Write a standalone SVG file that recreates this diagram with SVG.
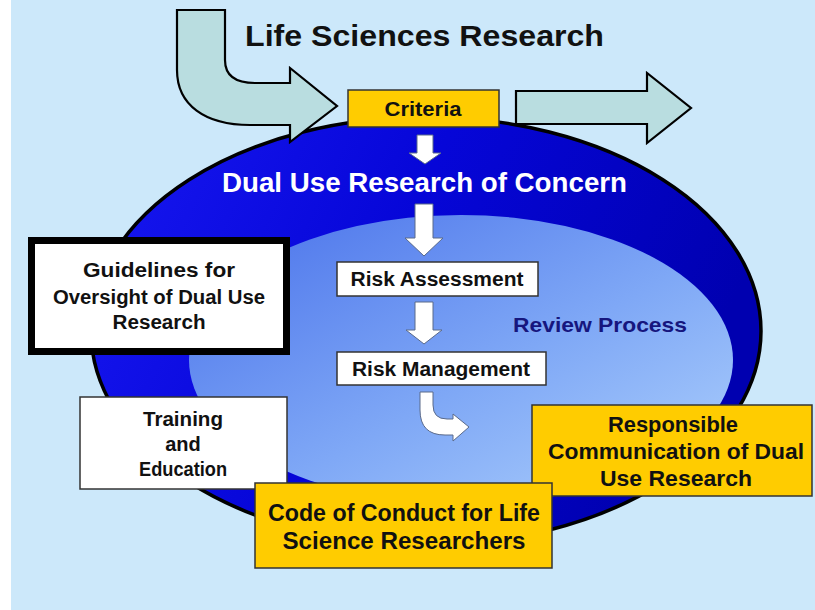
<svg xmlns="http://www.w3.org/2000/svg" width="815" height="610" viewBox="0 0 815 610">
<defs>
<linearGradient id="gOuter" x1="0" y1="0" x2="1" y2="0.3">
<stop offset="0" stop-color="#1818F2"/>
<stop offset="0.5" stop-color="#0606D8"/>
<stop offset="1" stop-color="#0000B0"/>
</linearGradient>
<linearGradient id="gInner" x1="0" y1="0" x2="1" y2="1">
<stop offset="0" stop-color="#4870EA"/>
<stop offset="0.55" stop-color="#7FA8F6"/>
<stop offset="1" stop-color="#B0D2FC"/>
</linearGradient>
<style>
.bigarrow{fill:#B9DDE0;stroke:#000;stroke-width:2.2;stroke-linejoin:miter}
.warrow{fill:#FFFFFF;stroke:#5A6A8A;stroke-width:1}
.gold{fill:#FFCC00;stroke:#333;stroke-width:1.5}
.wbox{fill:#FFFFFF;stroke:#333;stroke-width:1.5}
text{font-family:"Liberation Sans",Arial,sans-serif;font-weight:bold;fill:#111}
.c{text-anchor:middle}
</style>
</defs>
<rect x="0" y="0" width="815" height="610" fill="#FFFFFF"/>
<rect x="11" y="0" width="804" height="610" fill="#CCE8FA"/>

<g id="dual-use-ellipse">
<ellipse cx="426" cy="331" rx="335" ry="214" fill="url(#gOuter)" stroke="#000" stroke-width="3.5"/>
<text x="222" y="192" font-size="27" textLength="405" lengthAdjust="spacingAndGlyphs" style="fill:#FFFFFF">Dual Use Research of Concern</text>
</g>
<g id="review-process">
<ellipse cx="461" cy="360" rx="272" ry="145" fill="url(#gInner)"/>
<text x="513" y="332" font-size="21" textLength="174" lengthAdjust="spacingAndGlyphs" style="fill:#16167E">Review Process</text>
</g>

<g id="title">
<text x="245" y="46" font-size="29" textLength="359" lengthAdjust="spacingAndGlyphs">Life Sciences Research</text>
</g>

<g id="connectors">
<path class="bigarrow" d="M177,10 L225,10 L225,60 C225,75 235,83 255,83 L290,83 L290,68 L337,106 L290,142 L290,125 L250,125 C205,125 177,105 177,70 Z"/>
<path class="bigarrow" d="M516,91 L647,91 L647,73 L691,108 L647,143 L647,124 L516,124 Z"/>
<path class="warrow" d="M417,135 H433 V153 H441 L425,164 L409,153 H417 Z"/>
<path class="warrow" d="M415,204 H433 V238 H443 L424,256 L405,238 H415 Z"/>
<path class="warrow" d="M415,302 H433 V330 H442 L424,344 L406,330 H415 Z"/>
<path class="warrow" d="M420,392 L433,392 L433,405 Q433,419 447,419 L453,419 L453,414 L469,427 L453,441 L453,435 L445,435 Q420,435 420,410 Z"/>
</g>

<g id="criteria">
<rect class="gold" x="348" y="90" width="151" height="37"/>
<text class="c" x="423" y="116" font-size="21" textLength="77" lengthAdjust="spacingAndGlyphs">Criteria</text>
</g>

<g id="risk-assessment">
<rect class="wbox" x="337" y="262" width="201" height="34"/>
<text class="c" x="437" y="286" font-size="20" textLength="173" lengthAdjust="spacingAndGlyphs">Risk Assessment</text>
</g>

<g id="risk-management">
<rect class="wbox" x="337" y="352" width="209" height="33"/>
<text class="c" x="441" y="376" font-size="20" textLength="178" lengthAdjust="spacingAndGlyphs">Risk Management</text>
</g>

<g id="guidelines">
<rect x="31.5" y="240.5" width="255" height="111" fill="#FFFFFF" stroke="#000" stroke-width="7"/>
<text class="c" x="159" y="277" font-size="20" textLength="152" lengthAdjust="spacingAndGlyphs">Guidelines for</text>
<text class="c" x="159" y="304" font-size="20" textLength="212" lengthAdjust="spacingAndGlyphs">Oversight of Dual Use</text>
<text class="c" x="159" y="329" font-size="20" textLength="93" lengthAdjust="spacingAndGlyphs">Research</text>
</g>

<g id="training">
<rect class="wbox" x="80" y="397" width="207" height="92"/>
<text class="c" x="183" y="426" font-size="20" textLength="80" lengthAdjust="spacingAndGlyphs">Training</text>
<text class="c" x="183" y="451" font-size="20">and</text>
<text class="c" x="183" y="476" font-size="20" textLength="88" lengthAdjust="spacingAndGlyphs">Education</text>
</g>

<g id="responsible-communication">
<rect class="gold" x="532" y="405" width="280" height="91"/>
<text class="c" x="673" y="432" font-size="22" textLength="130" lengthAdjust="spacingAndGlyphs">Responsible</text>
<text class="c" x="676" y="459" font-size="22" textLength="256" lengthAdjust="spacingAndGlyphs">Communication of Dual</text>
<text class="c" x="676" y="486" font-size="22" textLength="152" lengthAdjust="spacingAndGlyphs">Use Research</text>
</g>

<g id="code-of-conduct">
<rect class="gold" x="255" y="483" width="297" height="85"/>
<text class="c" x="404" y="521" font-size="23" textLength="272" lengthAdjust="spacingAndGlyphs">Code of Conduct for Life</text>
<text class="c" x="404" y="549" font-size="23" textLength="243" lengthAdjust="spacingAndGlyphs">Science Researchers</text>
</g>
</svg>
